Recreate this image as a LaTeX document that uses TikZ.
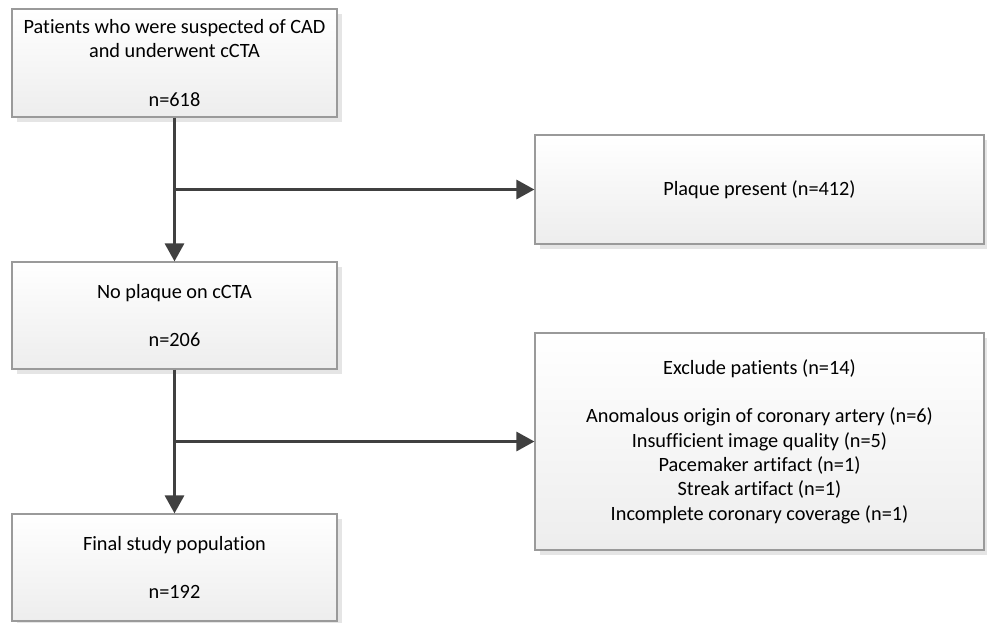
\documentclass[tikz,border=0pt]{standalone}
\usepackage{fontspec}
\setmainfont{Carlito}[Ligatures={NoCommon}]
\usetikzlibrary{arrows.meta,shadows}
\definecolor{linec}{HTML}{404040}
\definecolor{boxborder}{HTML}{9A9A9A}
\tikzset{
  box/.style={draw=boxborder, line width=1.2pt, top color=white, bottom color=black!7,
    shading angle=0, rectangle, inner sep=0pt, align=center,
    font=\fontsize{20.3}{24.3}\selectfont,
    drop shadow={shadow xshift=5pt, shadow yshift=-5pt, fill=black!10, opacity=1}},
  conn/.style={draw=linec, line width=3pt},
  arr/.style={conn, -{Triangle[length=18pt,width=19pt]}},
}
\begin{document}
\begin{tikzpicture}[x=1pt,y=-1pt]
\useasboundingbox (0,0) rectangle (987,622);
\node[box, minimum width=325pt, minimum height=108pt] (b1) at (174.5,63)
  {Patients who were suspected of CAD\\and underwent cCTA\\[24.3pt]n=618};
\node[box, minimum width=325pt, minimum height=107pt] (b2) at (174.5,315.5)
  {No plaque on cCTA\\[24.3pt]n=206};
\node[box, minimum width=325pt, minimum height=107pt] (b3) at (174.5,567.5)
  {Final study population\\[24.3pt]n=192};
\node[box, minimum width=449pt, minimum height=109pt] (r1) at (759.5,189.5)
  {Plaque present (n=412)};
\node[box, minimum width=449pt, minimum height=217pt] (r2) at (759.5,441.5)
  {Exclude patients (n=14)\\[24.3pt]Anomalous origin of coronary artery (n=6)\\Insufficient image quality (n=5)\\Pacemaker artifact (n=1)\\Streak artifact (n=1)\\Incomplete coronary coverage (n=1)};
\coordinate (j1) at (b1.south |- r1.west);
\coordinate (j2) at (b2.south |- r2.west);
\draw[arr] (b1.south) -- (b2.north);
\draw[arr] (j1) -- (r1.west);
\draw[arr] (b2.south) -- (b3.north);
\draw[arr] (j2) -- (r2.west);
\end{tikzpicture}
\end{document}
